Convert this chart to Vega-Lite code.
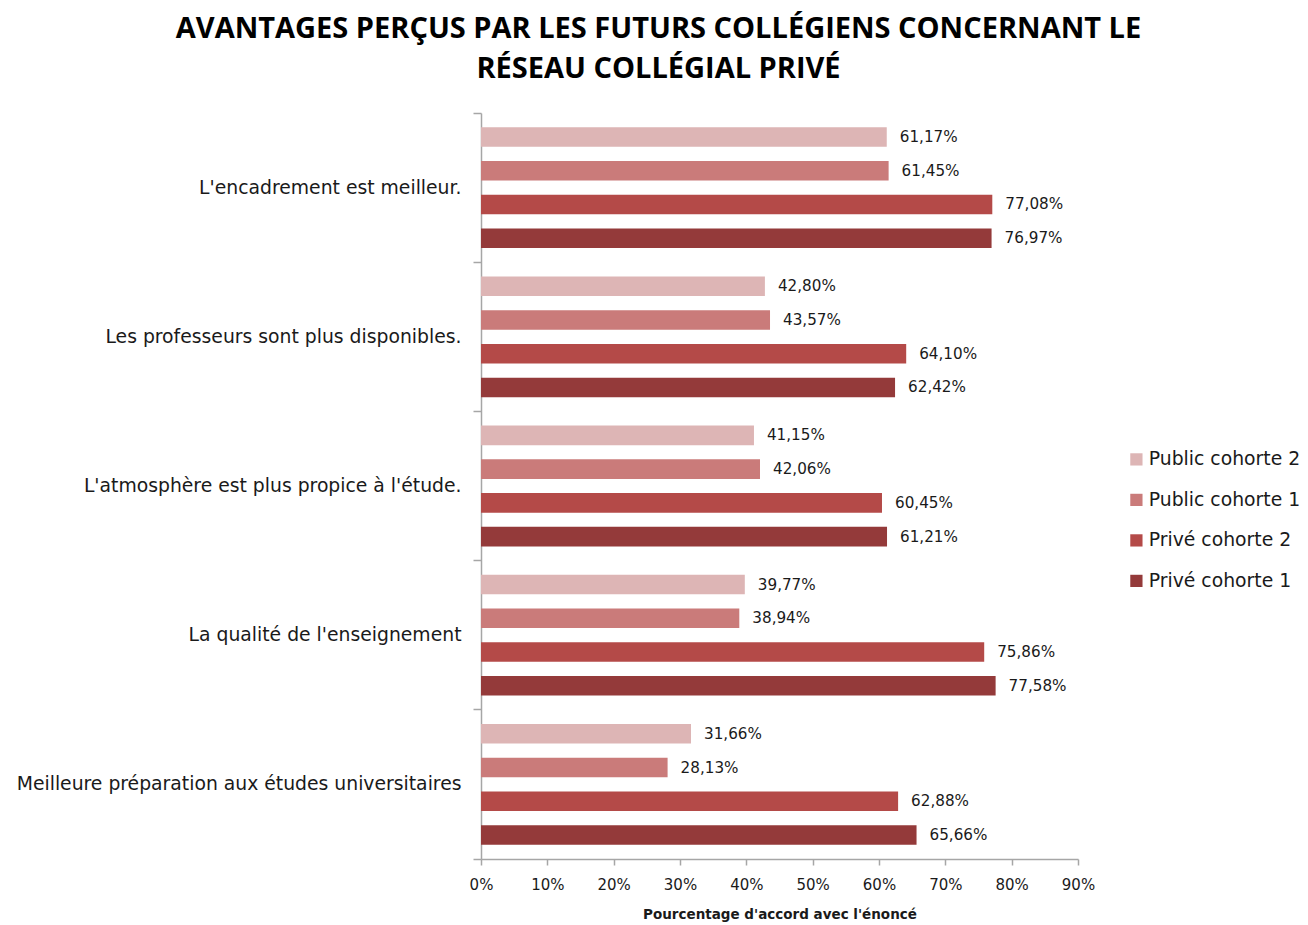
{
  "$schema": "https://vega.github.io/schema/vega-lite/v6.json",
  "width": 597,
  "height": 746,
  "autosize": "none",
  "padding": {"left": 481, "top": 113, "right": 230, "bottom": 66},
  "background": "white",
  "config": {
    "view": {"stroke": null},
    "font": "DejaVu Sans",
    "locale": {"number": {"decimal": ",", "thousands": " ", "grouping": [3], "currency": ["", " €"]}}
  },
  "title": {
    "text": ["AVANTAGES PERÇUS PAR LES FUTURS COLLÉGIENS CONCERNANT LE", "RÉSEAU COLLÉGIAL PRIVÉ"],
    "fontSize": 29,
    "fontWeight": "bold",
    "font": "Open Sans",
    "color": "#000000",
    "anchor": "middle",
    "dx": -121,
    "lineHeight": 40,
    "offset": 20
  },
  "data": {
    "values": [
      {"categorie": "L'encadrement est meilleur.", "serie": "Public cohorte 2", "valeur": 0.6117},
      {"categorie": "L'encadrement est meilleur.", "serie": "Public cohorte 1", "valeur": 0.6145},
      {"categorie": "L'encadrement est meilleur.", "serie": "Privé cohorte 2", "valeur": 0.7708},
      {"categorie": "L'encadrement est meilleur.", "serie": "Privé cohorte 1", "valeur": 0.7697},
      {"categorie": "Les professeurs sont plus disponibles.", "serie": "Public cohorte 2", "valeur": 0.4280},
      {"categorie": "Les professeurs sont plus disponibles.", "serie": "Public cohorte 1", "valeur": 0.4357},
      {"categorie": "Les professeurs sont plus disponibles.", "serie": "Privé cohorte 2", "valeur": 0.6410},
      {"categorie": "Les professeurs sont plus disponibles.", "serie": "Privé cohorte 1", "valeur": 0.6242},
      {"categorie": "L'atmosphère est plus propice à l'étude.", "serie": "Public cohorte 2", "valeur": 0.4115},
      {"categorie": "L'atmosphère est plus propice à l'étude.", "serie": "Public cohorte 1", "valeur": 0.4206},
      {"categorie": "L'atmosphère est plus propice à l'étude.", "serie": "Privé cohorte 2", "valeur": 0.6045},
      {"categorie": "L'atmosphère est plus propice à l'étude.", "serie": "Privé cohorte 1", "valeur": 0.6121},
      {"categorie": "La qualité de l'enseignement", "serie": "Public cohorte 2", "valeur": 0.3977},
      {"categorie": "La qualité de l'enseignement", "serie": "Public cohorte 1", "valeur": 0.3894},
      {"categorie": "La qualité de l'enseignement", "serie": "Privé cohorte 2", "valeur": 0.7586},
      {"categorie": "La qualité de l'enseignement", "serie": "Privé cohorte 1", "valeur": 0.7758},
      {"categorie": "Meilleure préparation aux études universitaires", "serie": "Public cohorte 2", "valeur": 0.3166},
      {"categorie": "Meilleure préparation aux études universitaires", "serie": "Public cohorte 1", "valeur": 0.2813},
      {"categorie": "Meilleure préparation aux études universitaires", "serie": "Privé cohorte 2", "valeur": 0.6288},
      {"categorie": "Meilleure préparation aux études universitaires", "serie": "Privé cohorte 1", "valeur": 0.6566}
    ]
  },
  "encoding": {
    "y": {
      "field": "categorie",
      "type": "nominal",
      "sort": null,
      "scale": {"paddingInner": 0, "paddingOuter": 0},
      "axis": {
        "title": null,
        "bandPosition": 1,
        "tickExtra": true,
        "domainColor": "#a6a6a6",
        "domainWidth": 1.5,
        "tickColor": "#a6a6a6",
        "tickWidth": 1.5,
        "tickSize": 8,
        "labelFontSize": 18.8,
        "labelFont": "DejaVu Sans",
        "labelColor": "#1a1a1a",
        "labelPadding": 12,
        "labelLimit": 600
      }
    },
    "yOffset": {
      "field": "serie",
      "type": "nominal",
      "sort": ["Public cohorte 2", "Public cohorte 1", "Privé cohorte 2", "Privé cohorte 1"],
      "scale": {"paddingInner": 0.42, "paddingOuter": 0.42}
    },
    "x": {
      "field": "valeur",
      "type": "quantitative",
      "scale": {"domain": [0, 0.9], "nice": false},
      "axis": {
        "title": "Pourcentage d'accord avec l'énoncé",
        "titleFontSize": 13.5,
        "titleFontWeight": "bold",
        "titleFont": "DejaVu Sans",
        "titleColor": "#1a1a1a",
        "titlePadding": 15,
        "format": ".0%",
        "values": [0, 0.1, 0.2, 0.3, 0.4, 0.5, 0.6, 0.7, 0.8, 0.9],
        "grid": false,
        "domainColor": "#a6a6a6",
        "domainWidth": 1.5,
        "tickColor": "#a6a6a6",
        "tickWidth": 1.5,
        "tickSize": 6,
        "labelFontSize": 15,
        "labelFont": "DejaVu Sans",
        "labelColor": "#1a1a1a",
        "labelPadding": 12,
        "labelFlush": false
      }
    }
  },
  "layer": [
    {
      "mark": {"type": "bar"},
      "encoding": {
        "color": {
          "field": "serie",
          "type": "nominal",
          "scale": {
            "domain": ["Public cohorte 2", "Public cohorte 1", "Privé cohorte 2", "Privé cohorte 1"],
            "range": ["#ddb5b5", "#ca7b7a", "#b44a48", "#943a3a"]
          },
          "legend": {
            "title": null,
            "orient": "none",
            "legendX": 646,
            "legendY": 337,
            "symbolType": "square",
            "symbolSize": 150,
            "labelFontSize": 18.8,
            "labelFont": "DejaVu Sans",
            "labelColor": "#1a1a1a",
            "rowPadding": 20.5,
            "labelOffset": 3
          }
        }
      }
    },
    {
      "mark": {"type": "text", "align": "left", "baseline": "middle", "dx": 13, "fontSize": 15.2, "color": "#1a1a1a", "font": "DejaVu Sans"},
      "encoding": {
        "text": {"field": "valeur", "type": "quantitative", "format": ".2%"}
      }
    }
  ]
}
